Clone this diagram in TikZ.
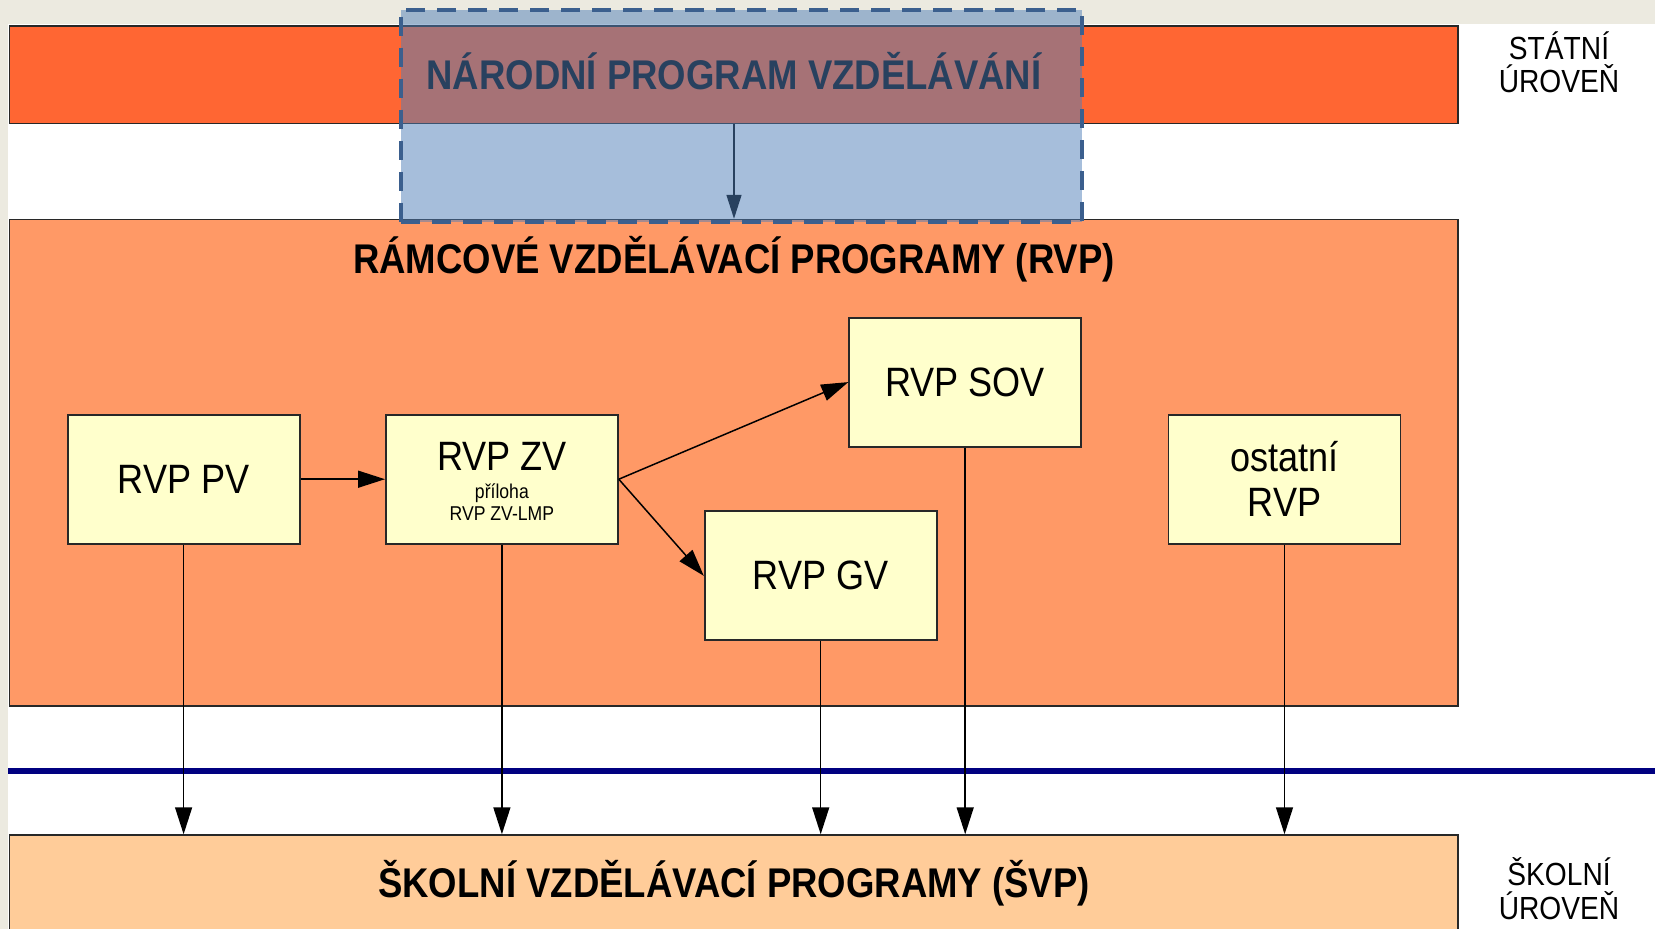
\documentclass[tikz,border=0pt]{standalone}
\usepackage{fontspec}
\setmainfont[FakeStretch=0.88]{Liberation Sans}
\usetikzlibrary{arrows.meta}
\definecolor{beige}{RGB}{236,234,224}
\definecolor{topor}{RGB}{255,102,51}
\definecolor{rvpor}{RGB}{255,153,102}
\definecolor{svpor}{RGB}{255,204,153}
\definecolor{boxy}{RGB}{255,255,204}
\definecolor{npblue}{RGB}{79,127,185}
\definecolor{npdash}{RGB}{59,95,142}
\definecolor{nptext}{RGB}{40,65,95}
\definecolor{navyline}{RGB}{0,0,128}
\definecolor{edge}{RGB}{40,40,40}
\begin{document}
\begin{tikzpicture}[x=1pt,y=-1pt,
  band/.style={draw=edge,line width=1.5pt,minimum width=1448.5pt,inner sep=0pt,anchor=center},
  rvpbox/.style={draw=edge,fill=boxy,line width=1.8pt,minimum width=232pt,minimum height=129pt,inner sep=0pt,font=\fontsize{41}{45}\selectfont,align=center},
  conn/.style={line width=1.5pt,-{Triangle[length=27pt,width=17pt]}},
  ttl/.style={font=\fontsize{41.5}{48}\selectfont\bfseries,anchor=base,inner sep=0pt},
  lvl/.style={font=\fontsize{32}{34}\selectfont,anchor=base,inner sep=0pt},
  small/.style={font=\fontsize{20}{22}\selectfont,anchor=base,inner sep=0pt}]
\useasboundingbox (0,0) rectangle (1655,929);
\clip (0,0) rectangle (1655,929);
\fill[beige] (0,0) rectangle (1655,929);
\fill[white] (8.4,24) rectangle (1655,929);
% bands
\node[band,fill=topor,minimum height=97.5pt] (topbar) at (733.75,74.75) {};
\node[band,fill=rvpor,minimum height=486.5pt] (rvp) at (733.75,462.75) {};
\node[band,fill=svpor,minimum height=140pt] (svp) at (733.75,905) {};
% national programme overlay
\node[draw=npdash,line width=4pt,dash pattern=on 19pt off 12pt,fill=npblue,fill opacity=0.5,draw opacity=1,minimum width=681pt,minimum height=212pt,inner sep=0pt] (np) at (741.5,115.6) {};
\node[ttl,text=nptext] (nptxt) at (734,89) {NÁRODNÍ PROGRAM VZDĚLÁVÁNÍ};
\draw[line width=1.5pt,draw=nptext,-{Triangle[length=24pt,width=15pt]}] (topbar.south -| nptxt.base) -- (rvp.north -| nptxt.base);
% titles
\node[ttl] (rvptitle) at (734,273.5) {RÁMCOVÉ VZDĚLÁVACÍ PROGRAMY (RVP)};
\node[ttl] (svptitle) at (734,897) {ŠKOLNÍ VZDĚLÁVACÍ PROGRAMY (ŠVP)};
% boxes
\node[rvpbox] (pv) at (183.6,479.2) {RVP PV};
\node[rvpbox] (zv) at (501.9,479.2) {};
\node[font=\fontsize{41}{45}\selectfont,anchor=base,inner sep=0pt] (zvt) at (501.9,470.3) {RVP ZV};
\node[small] (zvs1) at (501.9,498) {příloha};
\node[small] (zvs2) at (501.9,520) {RVP ZV-LMP};
\node[rvpbox] (sov) at (965.2,382.1) {RVP SOV};
\node[rvpbox] (gv) at (820.7,575.8) {RVP GV};
\node[rvpbox] (ost) at (1284.5,479.2) {ostatní\\RVP};
% divider line
\coordinate (bl) at (8.4,770.5);
\coordinate (br) at (1655,770.5);
\draw[navyline,line width=6pt] (bl) -- (br);
% connectors
\draw[conn] (pv) -- (zv);
\draw[conn] (zv.east) -- (sov.west);
\draw[conn] (zv.east) -- (gv.west);
\draw[conn] (pv.south) -- (pv.south |- svp.north);
\draw[conn] (zv.south) -- (zv.south |- svp.north);
\draw[conn] (gv.south) -- (gv.south |- svp.north);
\draw[conn] (sov.south) -- (sov.south |- svp.north);
\draw[conn] (ost.south) -- (ost.south |- svp.north);
% level labels
\node[lvl] (st1) at (1559,59) {STÁTNÍ};
\node[lvl] (st2) at (1559,92.5) {ÚROVEŇ};
\node[lvl] (sk1) at (1559,885.5) {ŠKOLNÍ};
\node[lvl] (sk2) at (1559,919.5) {ÚROVEŇ};
\end{tikzpicture}
\end{document}
